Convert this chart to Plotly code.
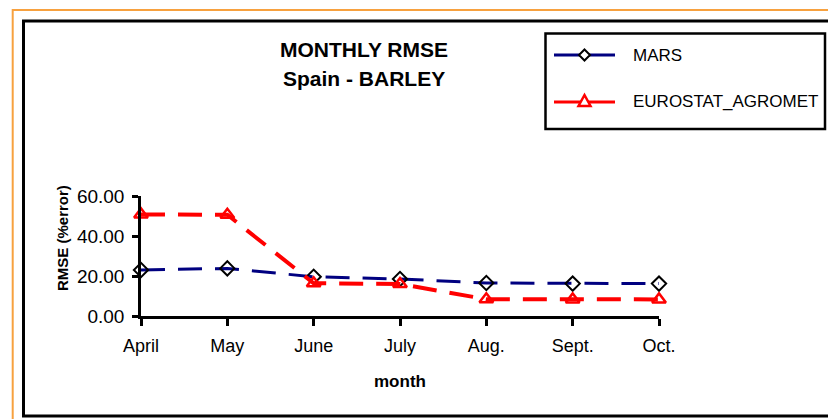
import plotly.graph_objects as go

months = ["April", "May", "June", "July", "Aug.", "Sept.", "Oct."]
mars = [23.0, 23.8, 19.6, 18.5, 16.5, 16.2, 16.2]
eurostat = [50.8, 50.6, 16.4, 16.0, 8.4, 8.3, 8.3]
y_ticks = [0, 20, 40, 60]
y_tick_labels = ["0.00", "20.00", "40.00", "60.00"]

W, H = 828, 419
L, R, T, B = 141, 828 - 659, 196, 419 - 316
PW, PH = W - L - R, H - T - B
FONT = "Liberation Sans, Arial, sans-serif"


def px(x):
    return (x - L) / PW


def py(y):
    return (H - B - y) / PH


xs = list(range(len(months)))

fig = go.Figure()
fig.add_trace(go.Scatter(
    x=xs, y=mars, mode="lines+markers", name="MARS",
    line=dict(color="#000080", width=3, dash="24px,13px"),
    marker=dict(symbol="diamond-open", size=11, color="black", line=dict(width=2, color="black")),
    cliponaxis=False,
))
fig.add_trace(go.Scatter(
    x=xs, y=eurostat, mode="lines+markers", name="EUROSTAT_AGROMET",
    line=dict(color="#FF0000", width=4, dash="24px,13px"),
    marker=dict(symbol="triangle-up-open", size=12, color="#FF0000", line=dict(width=2.5, color="#FF0000")),
    cliponaxis=False,
))

shapes = []
shapes.append(dict(type="rect", xref="paper", yref="paper",
                   x0=px(12.7), x1=px(900), y0=py(10), y1=py(500),
                   line=dict(color="#F7A13F", width=2), layer="below"))
shapes.append(dict(type="rect", xref="paper", yref="paper",
                   x0=px(23.5), x1=px(900), y0=py(21), y1=py(416),
                   line=dict(color="black", width=3), layer="below"))
shapes.append(dict(type="rect", xref="paper", yref="paper",
                   x0=px(545.5), x1=px(825), y0=py(33.5), y1=py(129),
                   line=dict(color="black", width=2.5), fillcolor="white"))
for yy, col in [(55, "#000080"), (102, "#FF0000")]:
    shapes.append(dict(type="line", xref="paper", yref="paper",
                       x0=px(554), x1=px(615), y0=py(yy), y1=py(yy),
                       line=dict(color=col, width=3)))
cx, cy = 584.5, 55
d = 5.5
pts = [(cx, cy - d), (cx + d, cy), (cx, cy + d), (cx - d, cy)]
path = "M " + " L ".join(f"{px(a)},{py(b)}" for a, b in pts) + " Z"
shapes.append(dict(type="path", xref="paper", yref="paper", path=path,
                   line=dict(color="black", width=2), fillcolor="white"))
cx, cy = 584.5, 101
pts = [(cx, cy - 6), (cx + 6, cy + 5), (cx - 6, cy + 5)]
path = "M " + " L ".join(f"{px(a)},{py(b)}" for a, b in pts) + " Z"
shapes.append(dict(type="path", xref="paper", yref="paper", path=path,
                   line=dict(color="#FF0000", width=2.5), fillcolor="white"))

annotations = [
    dict(text="<b>MONTHLY RMSE</b>", x=px(364), y=py(49), xref="paper", yref="paper",
         showarrow=False, font=dict(family=FONT, size=21, color="black"), xanchor="center", yanchor="middle"),
    dict(text="<b>Spain - BARLEY</b>", x=px(364), y=py(79), xref="paper", yref="paper",
         showarrow=False, font=dict(family=FONT, size=21, color="black"), xanchor="center", yanchor="middle"),
    dict(text="MARS", x=px(631), y=py(55), xref="paper", yref="paper",
         showarrow=False, font=dict(family=FONT, size=17, color="black"), xanchor="left", yanchor="middle"),
    dict(text="EUROSTAT_AGROMET", x=px(631), y=py(102), xref="paper", yref="paper",
         showarrow=False, font=dict(family=FONT, size=17, color="black"), xanchor="left", yanchor="middle"),
    dict(text="<b>RMSE (%error)</b>", x=px(62), y=py(238), xref="paper", yref="paper",
         showarrow=False, textangle=-90, font=dict(family=FONT, size=15, color="black"),
         xanchor="center", yanchor="middle"),
    dict(text="<b>month</b>", x=px(400), y=py(381), xref="paper", yref="paper",
         showarrow=False, font=dict(family=FONT, size=17, color="black"), xanchor="center", yanchor="middle"),
]

fig.update_layout(
    width=W, height=H,
    margin=dict(l=L, r=R, t=T, b=B, pad=0),
    paper_bgcolor="white", plot_bgcolor="white",
    showlegend=False,
    shapes=shapes, annotations=annotations,
    font=dict(family=FONT, color="black"),
    xaxis=dict(range=[0, 6], tickmode="array", tickvals=xs, ticktext=months,
               showgrid=False, zeroline=False, showline=True, linecolor="black", linewidth=2.5,
               ticks="outside", ticklen=7, tickwidth=2.5, tickcolor="black",
               tickfont=dict(family=FONT, size=18, color="black"), ticklabelstandoff=5),
    yaxis=dict(range=[0, 60], tickmode="array", tickvals=y_ticks, ticktext=y_tick_labels,
               showgrid=False, zeroline=False, showline=True, linecolor="black", linewidth=2.5,
               ticks="outside", ticklen=6, tickwidth=2.5, tickcolor="black",
               tickfont=dict(family=FONT, size=19, color="black"), ticklabelstandoff=4),
)

fig.write_html("out.html", config={"displayModeBar": False},
               post_script="document.body.style.margin='0px';document.body.style.padding='0px';document.body.style.overflow='hidden';")
